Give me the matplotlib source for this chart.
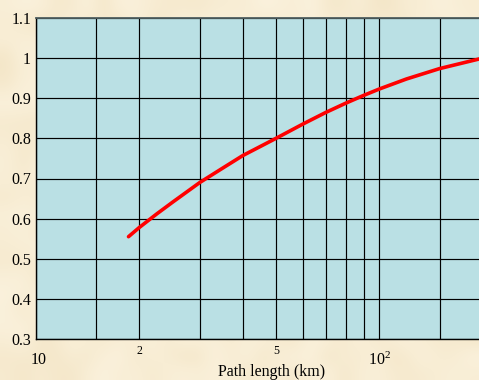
import numpy as np
import matplotlib
matplotlib.use("Agg")
import matplotlib.pyplot as plt
from matplotlib.ticker import FixedLocator, NullFormatter, FixedFormatter
from matplotlib.colors import LinearSegmentedColormap
import matplotlib.transforms as mtransforms

# Path length (km) and the corresponding factor
path_km = [18.6, 20, 22.5, 25, 30, 35, 40, 50, 60, 70, 80, 90, 100, 120, 150, 200]
factor = [0.555, 0.578, 0.612, 0.641, 0.690, 0.726, 0.757, 0.800, 0.836, 0.865,
          0.888, 0.907, 0.923, 0.948, 0.974, 1.000]

major_ticks = [10, 20, 50, 100]
major_labels = ["10", "2", "5", r"$\mathregular{10^2}$"]
minor_ticks = [15, 30, 40, 60, 70, 80, 90, 150]
y_ticks = [0.3, 0.4, 0.5, 0.6, 0.7, 0.8, 0.9, 1.0, 1.1]
y_labels = ["0.3", "0.4", "0.5", "0.6", "0.7", "0.8", "0.9", "1", "1.1"]

plt.rcParams["font.family"] = ["Liberation Serif", "DejaVu Serif"]

W, H = 479, 380
fig = plt.figure(figsize=(W / 100, H / 100), dpi=100)
fig.patch.set_facecolor("#f7ebd0")

# parchment-like backdrop
bg = fig.add_axes([0, 0, 1, 1], zorder=-10)
rng = np.random.default_rng(7)
noise = rng.random((24, 30))
parch = LinearSegmentedColormap.from_list("parch", ["#f4e6c8", "#f8edd4", "#fbf2de"])
bg.imshow(noise, cmap=parch, interpolation="bicubic", aspect="auto",
          extent=[0, 1, 0, 1], vmin=0, vmax=1)
bg.set_axis_off()

left = 36 / W
bottom = (H - 339) / H
top = (H - 18) / H
right = 482.6 / W
ax = fig.add_axes([left, bottom, right - left, top - bottom])
ax.set_facecolor("#bae0e4")

ax.set_xscale("log")
ax.set_xlim(10, 200)
ax.set_ylim(0.3, 1.1)

ax.xaxis.set_major_locator(FixedLocator(major_ticks))
ax.xaxis.set_major_formatter(FixedFormatter(major_labels))
ax.xaxis.set_minor_locator(FixedLocator(minor_ticks))
ax.xaxis.set_minor_formatter(NullFormatter())
ax.set_yticks(y_ticks)
ax.set_yticklabels(y_labels)

ax.tick_params(which="both", length=0)
ax.tick_params(axis="y", pad=3.5, labelsize=11.5)
ax.tick_params(axis="x", pad=9, labelsize=11.5)

ax.grid(True, which="both", color="black", linewidth=0.85)
ax.set_axisbelow(True)
for side in ("left", "bottom"):
    ax.spines[side].set_color("black")
    ax.spines[side].set_linewidth(1.0)
ax.spines["top"].set_color("#4f5f60")
ax.spines["top"].set_linewidth(1.3)
ax.spines["right"].set_visible(False)

# per-label adjustments for the log-axis tick labels
xlabels = ax.get_xticklabels()
offsets = [(3, 0), (0, 6), (0, 6), (0, 0)]
sizes = [11.5, 8.5, 8.5, 11.5]
for lab, (dx, dy), fs in zip(xlabels, offsets, sizes):
    lab.set_fontsize(fs)
    lab.set_transform(lab.get_transform() +
                      mtransforms.ScaledTranslation(dx / 100, dy / 100, fig.dpi_scale_trans))

ax.plot(path_km, factor, color="#ff0000", linewidth=2.6, solid_capstyle="round",
        solid_joinstyle="round", clip_on=False, zorder=5)

fig.text(272 / W, 1 - 372.5 / H, "Path length (km)", ha="center", va="center",
         fontsize=11.5)

fig.savefig("out.png", dpi=100, facecolor=fig.get_facecolor())
